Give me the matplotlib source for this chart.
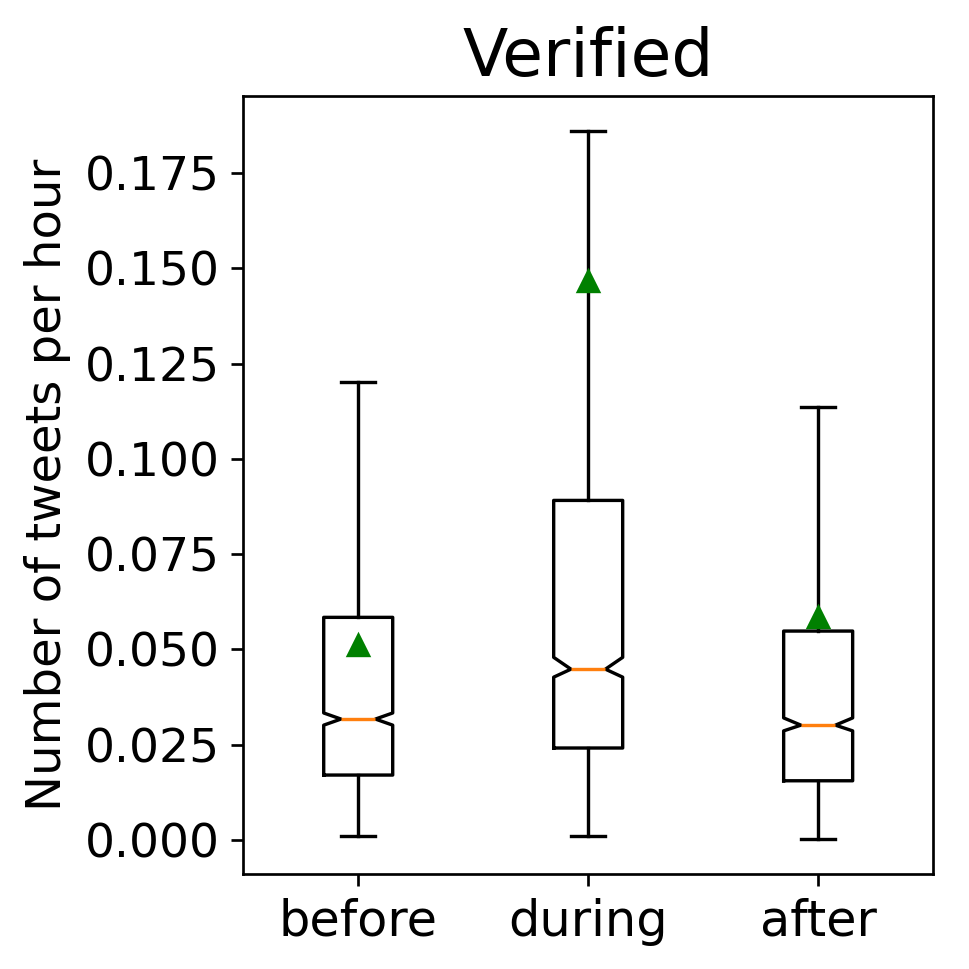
import matplotlib
matplotlib.use("Agg")
import matplotlib.pyplot as plt
from matplotlib.ticker import MultipleLocator, FormatStrFormatter

categories = ["before", "during", "after"]
whislo = [0.00105, 0.00105, 0.0003]
q1 = [0.0170, 0.0241, 0.0155]
med = [0.0317, 0.0448, 0.0301]
q3 = [0.0584, 0.0891, 0.0548]
whishi = [0.1203, 0.1860, 0.1137]
means = [0.0511, 0.1467, 0.0584]
cilo = [0.0301, 0.0427, 0.0286]
cihi = [0.0333, 0.0479, 0.0320]

stats = []
for i, c in enumerate(categories):
    stats.append(dict(label=c, whislo=whislo[i], q1=q1[i], med=med[i], q3=q3[i],
                      whishi=whishi[i], mean=means[i], cilo=cilo[i], cihi=cihi[i],
                      fliers=[]))

fig, ax = plt.subplots(figsize=(4, 4), dpi=242.25)
fig.subplots_adjust(left=0.251, right=0.963, top=0.901, bottom=0.098)
ax.bxp(stats, shownotches=True, showmeans=True, showfliers=False,
       meanprops=dict(marker='^', markerfacecolor='green', markeredgecolor='green'))
ax.yaxis.set_major_locator(MultipleLocator(0.025))
ax.yaxis.set_major_formatter(FormatStrFormatter('%.3f'))
ax.set_title("Verified", fontsize=19.7)
ax.set_ylabel("Number of tweets per hour", fontsize=14.3)
ax.tick_params(axis='y', labelsize=14)
ax.tick_params(axis='x', labelsize=14.7)
fig.savefig("out.png", dpi=242.25)
